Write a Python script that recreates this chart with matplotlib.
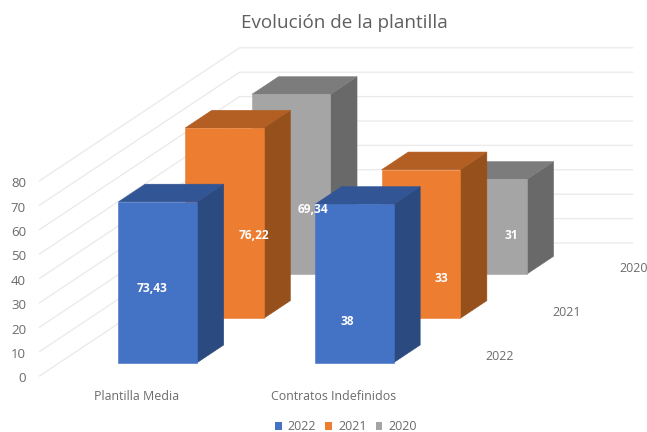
import matplotlib
matplotlib.use("Agg")
import matplotlib.pyplot as plt
from matplotlib.patches import Polygon, Patch

# ---- data ----
title = "Evolución de la plantilla"
categories = ["Plantilla Media", "Contratos Indefinidos"]
series_names = ["2022", "2021", "2020"]
# printed data labels
labels_2022 = ["73,43", "38"]
labels_2021 = ["76,22", "33"]
labels_2020 = ["69,34", "31"]
# drawn heights read against the value axis (the picture does not follow its labels)
heights_2022 = [65.9, 64.9]
heights_2021 = [78.0, 60.9]
heights_2020 = [73.6, 38.8]
value_ticks = [0, 10, 20, 30, 40, 50, 60, 70, 80]

# ---- style ----
face = ["#4472C4", "#ED7D31", "#A5A5A5"]
side = ["#2B4A80", "#95501C", "#696969"]
top = ["#325596", "#B35E23", "#7C7C7C"]
grid_c = "#EBEBEB"
text_c = "#6B6B6B"
font = "Open Sans"

# ---- oblique projection (pixels) ----
X0, Y0 = 39.5, 376.0
PX_PER_VALUE = 2.44
PX_PER_CAT = 196.5
DEPTH_X, DEPTH_Y = 200.0, 133.0
BAR_HALF = 0.2
DEPTH_HALF = 0.0665


def proj(u, t, v):
    return (X0 + u * PX_PER_CAT + t * DEPTH_X, Y0 - v * PX_PER_VALUE - t * DEPTH_Y)


fig = plt.figure(figsize=(6.47, 4.32), dpi=100)
ax = fig.add_axes([0, 0, 1, 1])
ax.set_xlim(0, 647)
ax.set_ylim(432, 0)
ax.axis("off")

# walls
n_cat = len(categories)
for v in value_ticks:
    pts = [proj(0, 0, v), proj(0, 1, v), proj(n_cat, 1, v)]
    ax.plot(*zip(*pts), color=grid_c, lw=1.0, zorder=1, solid_joinstyle="miter")
    x, y = proj(0, 0, v)
    ax.text(x - 13.5, y + 2.8, str(v), ha="right", va="center", fontsize=9.5,
            color=text_c, family=font)

heights = [heights_2022, heights_2021, heights_2020]
labels = [labels_2022, labels_2021, labels_2020]
# data label placement within each bar: (x offset from the bar's left edge, y in px)
label_dx = [[34, 32], [69, 60], [61, 63]]
label_y = [[288.5, 321.5], [235.5, 278.5], [209.5, 235.5]]

z = 2
for s in reversed(range(len(series_names))):
    tc = (s + 0.5) / len(series_names)
    t0, t1 = tc - DEPTH_HALF, tc + DEPTH_HALF
    for c in range(n_cat):
        u0, u1 = c + 0.5 - BAR_HALF, c + 0.5 + BAR_HALF
        h = heights[s][c]
        polys = [
            ([proj(u1, t0, 0), proj(u1, t1, 0), proj(u1, t1, h), proj(u1, t0, h)], side[s]),
            ([proj(u0, t0, h), proj(u1, t0, h), proj(u1, t1, h), proj(u0, t1, h)], top[s]),
            ([proj(u0, t0, 0), proj(u1, t0, 0), proj(u1, t0, h), proj(u0, t0, h)], face[s]),
        ]
        for pts, col in polys:
            ax.add_patch(Polygon(pts, closed=True, facecolor=col, edgecolor=col,
                                 lw=0.4, zorder=z))
        z += 1
for s in range(len(series_names)):
    tc = (s + 0.5) / len(series_names)
    for c in range(n_cat):
        x = proj(c + 0.5 - BAR_HALF, tc - DEPTH_HALF, 0)[0] + label_dx[s][c]
        ax.text(x, label_y[s][c], labels[s][c], ha="center", va="center", color="white",
                fontsize=8.6, fontweight="bold", family=font, zorder=50)

# category labels
for c, name in enumerate(categories):
    x, y = proj(c + 0.5, 0, 0)
    ax.text(x - 1, y + 21, name, ha="center", va="center", fontsize=8.9,
            color=text_c, family=font)
# series labels
for s, name in enumerate(series_names):
    x, y = proj(n_cat, (s + 0.5) / len(series_names), 0)
    ax.text(x + 34, y + 3, name, ha="center", va="center", fontsize=8.9,
            color=text_c, family=font)

ax.text(344, 23, title, ha="center", va="center", fontsize=13.6, color="#5F5F5F", family=font)

handles = [Patch(facecolor=face[i], edgecolor="none", label=series_names[i])
           for i in range(len(series_names))]
ax.legend(handles=handles, ncols=3, loc="center", bbox_to_anchor=(346 / 647, 1 - 427 / 432),
          frameon=False, prop={"family": font, "size": 9}, labelcolor=text_c,
          handlelength=0.55, handleheight=0.55, handletextpad=0.5, columnspacing=0.7,
          borderpad=0)

fig.savefig("out.png", dpi=100, facecolor="white")
